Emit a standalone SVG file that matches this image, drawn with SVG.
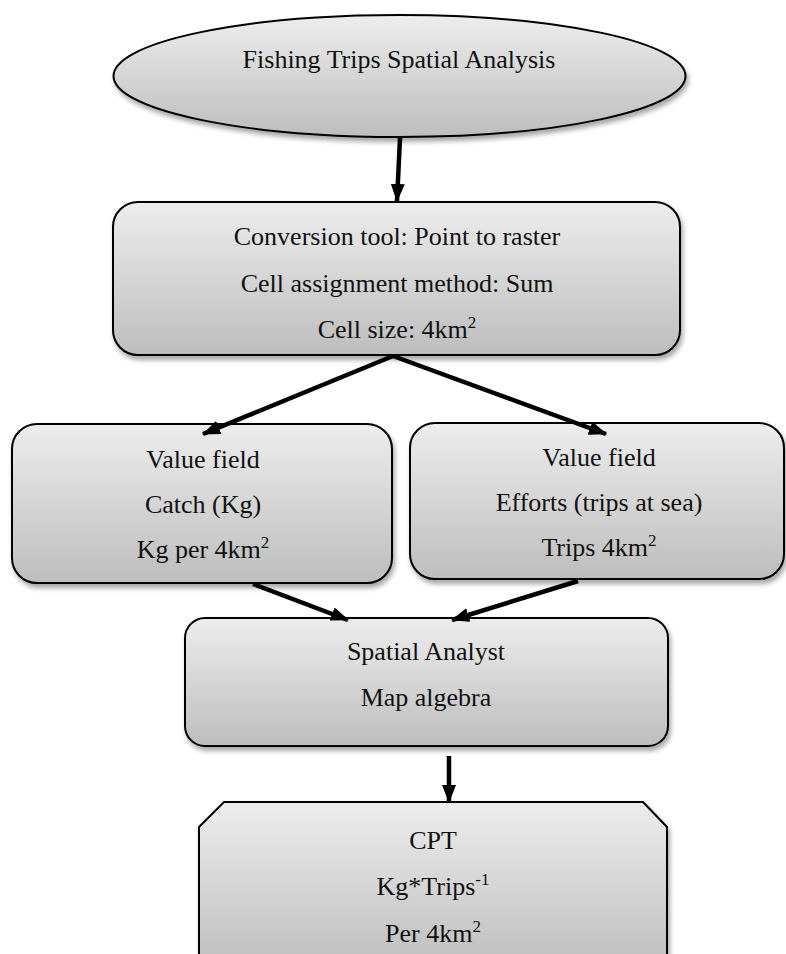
<svg xmlns="http://www.w3.org/2000/svg" width="786" height="954" viewBox="0 0 786 954">
<defs>
<linearGradient id="g" x1="0" y1="0" x2="0" y2="1">
<stop offset="0" stop-color="#ededed"/>
<stop offset="1" stop-color="#bdbdbd"/>
</linearGradient>
<filter id="sh" x="-10%" y="-10%" width="125%" height="130%">
<feDropShadow dx="2" dy="4" stdDeviation="2.5" flood-color="#000" flood-opacity="0.35"/>
</filter>
<marker id="ah" markerUnits="userSpaceOnUse" markerWidth="18" markerHeight="14" refX="17" refY="7" orient="auto">
<path d="M0,0 L18,7 L0,14 z" fill="#000"/>
</marker>
</defs>
<style>
.n{fill:url(#g);stroke:#000;stroke-width:2;filter:url(#sh)}
.t{font-family:"Liberation Serif","Times New Roman",serif;font-size:26px;fill:#111;text-anchor:middle}
.c{stroke:#000;stroke-width:4.5;fill:none;marker-end:url(#ah)}
.sup{font-size:17px}
</style>
<rect width="786" height="954" fill="#fff"/>

<g id="start">
<ellipse class="n" cx="399.5" cy="76" rx="286" ry="61"/>
<text class="t" x="399" y="68">Fishing Trips Spatial Analysis</text>
</g>

<g id="conversion">
<rect class="n" x="113" y="202" width="567" height="153" rx="25" ry="25"/>
<text class="t" x="397" y="245">Conversion tool: Point to raster</text>
<text class="t" x="397" y="292">Cell assignment method: Sum</text>
<text class="t" x="397" y="338">Cell size: 4km<tspan class="sup" dy="-10">2</tspan></text>
</g>

<g id="catch">
<rect class="n" x="12" y="424" width="380" height="159" rx="25" ry="25"/>
<text class="t" x="203" y="468">Value field</text>
<text class="t" x="203" y="513">Catch (Kg)</text>
<text class="t" x="203" y="558">Kg per 4km<tspan class="sup" dy="-10">2</tspan></text>
</g>

<g id="effort">
<rect class="n" x="410" y="423" width="374" height="156" rx="25" ry="25"/>
<text class="t" x="599" y="466">Value field</text>
<text class="t" x="599" y="511">Efforts (trips at sea)</text>
<text class="t" x="599" y="556">Trips 4km<tspan class="sup" dy="-10">2</tspan></text>
</g>

<g id="spatial">
<rect class="n" x="185" y="618" width="483" height="128" rx="20" ry="20"/>
<text class="t" x="426" y="660">Spatial Analyst</text>
<text class="t" x="426" y="706">Map algebra</text>
</g>

<g id="cpt">
<path class="n" d="M224,802 L643,802 L667,827 L667,970 L199,970 L199,827 Z"/>
<text class="t" x="433" y="849">CPT</text>
<text class="t" x="433" y="895">Kg*Trips<tspan class="sup" dy="-10">-1</tspan></text>
<text class="t" x="433" y="942">Per 4km<tspan class="sup" dy="-10">2</tspan></text>
</g>

<g id="connectors">
<line class="c" x1="400" y1="138" x2="397" y2="201"/>
<line class="c" x1="393" y1="356" x2="203" y2="434"/>
<line class="c" x1="393" y1="356" x2="606" y2="434"/>
<line class="c" x1="253" y1="584" x2="348" y2="620"/>
<line class="c" x1="578" y1="581" x2="452" y2="620"/>
<line class="c" x1="449" y1="756" x2="449" y2="802"/>
</g>
</svg>
